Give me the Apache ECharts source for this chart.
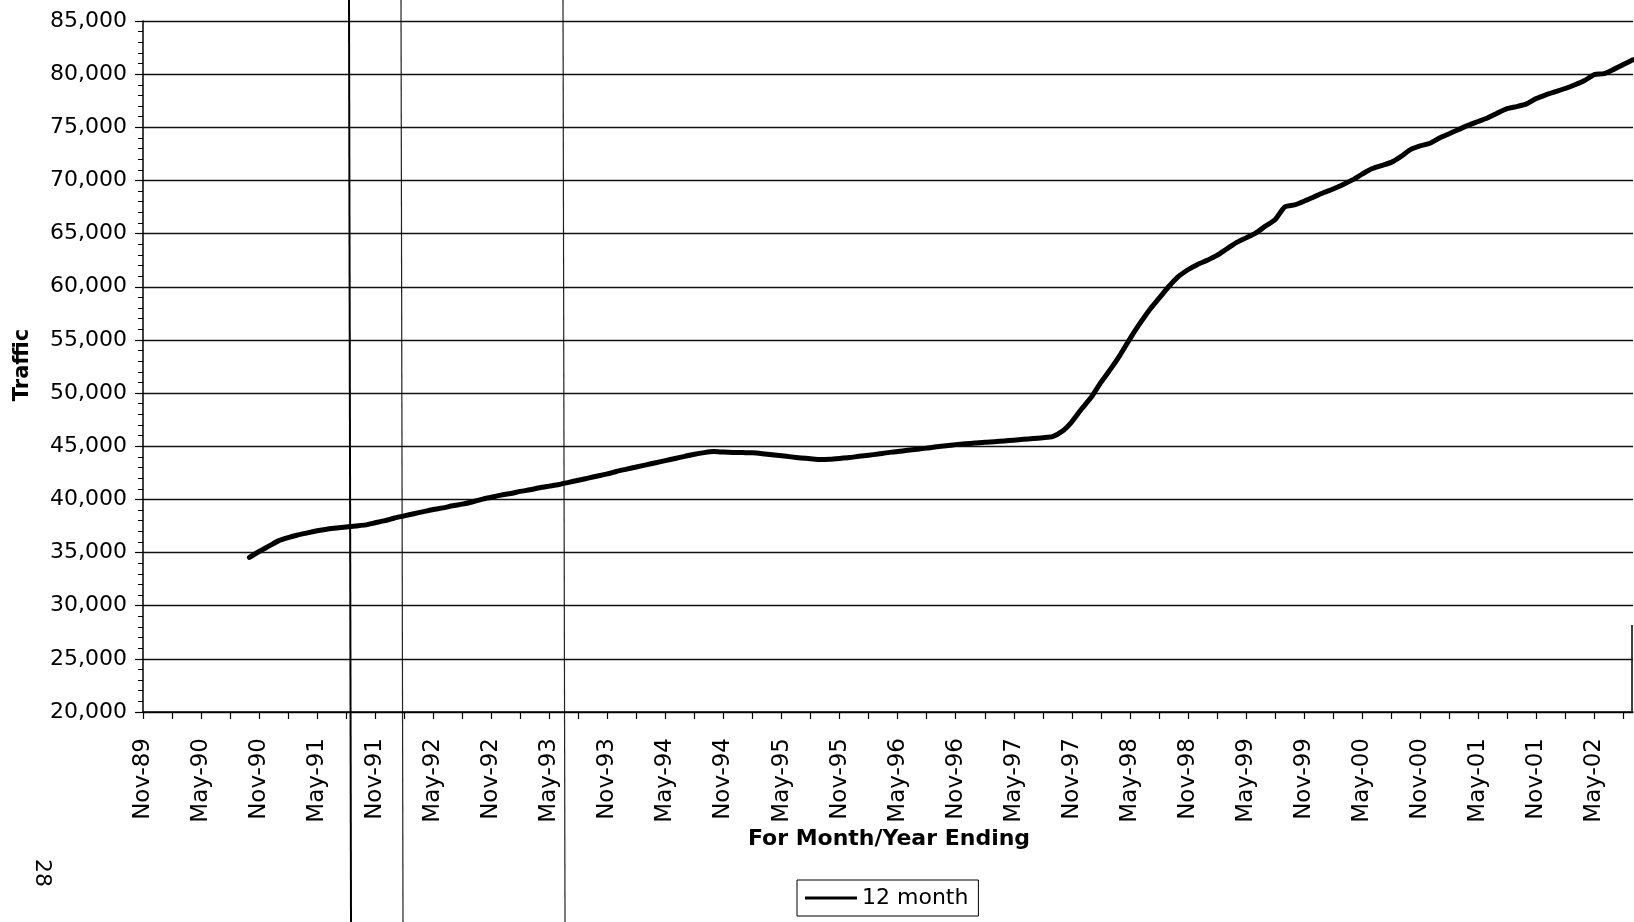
<!DOCTYPE html>
<html>
<head>
<meta charset="utf-8">
<script src="https://cdn.jsdelivr.net/npm/echarts@6/dist/echarts.min.js"></script>
<style>
html,body{margin:0;padding:0;background:#fff;}
#chart{width:1634px;height:922px;}
</style>
</head>
<body>
<div id="chart"></div>
<script>
// ---- data ----
const monthNames = ['Jan','Feb','Mar','Apr','May','Jun','Jul','Aug','Sep','Oct','Nov','Dec'];
// axis runs monthly from Nov-89 to Sep-02
const axisStart = { month: 10, year: 1989 };
const axisMonths = 155;
const categories = [];
for (let k = 0; k < axisMonths; k++) {
  const t = axisStart.month + k;
  const m = t % 12;
  const y = (axisStart.year + Math.floor(t / 12)) % 100;
  categories.push(monthNames[m] + '-' + String(y).padStart(2, '0'));
}
const firstDataMonth = 'Oct-90';
// 12-month traffic, Oct-90 .. Sep-02
const traffic = [
  34550, 35100, 35600, 36100, 36400, 36650, 36850, 37050, 37200, 37300, 37400, 37500,
  37600, 37800, 38000, 38250, 38450, 38650, 38850, 39050, 39200, 39400, 39550, 39750,
  40000, 40200, 40400, 40550, 40750, 40900, 41100, 41250, 41400, 41600, 41800, 42000,
  42200, 42400, 42650, 42850, 43050, 43250, 43450, 43650, 43850, 44050, 44250, 44400,
  44500, 44450, 44420, 44400, 44380, 44300, 44200, 44100, 44000, 43900, 43820, 43750,
  43780, 43850, 43930, 44050, 44150, 44270, 44400, 44500, 44620, 44720, 44820, 44950,
  45050, 45150, 45230, 45300, 45380, 45430, 45500, 45570, 45650, 45720, 45800, 45900,
  46400, 47300, 48500, 49600, 51000, 52250, 53600, 55100, 56500, 57800, 58900, 60000,
  60950, 61600, 62100, 62500, 62950, 63550, 64150, 64600, 65050, 65700, 66300, 67500,
  67700, 68050, 68450, 68850, 69200, 69600, 70050, 70600, 71100, 71400, 71700, 72250,
  72900, 73250, 73500, 74000, 74400, 74800, 75200, 75550, 75900, 76350, 76750, 76950,
  77200, 77700, 78050, 78350, 78650, 79000, 79400, 79950, 80050, 80450, 80900, 81350
];
const seriesName = '12 month';
const yMin = 20000, yMax = 85000, yStep = 5000;

// ---- chart ----
const offset = categories.indexOf(firstDataMonth);
const lineData = categories.map((c, k) => (k < offset ? null : traffic[k - offset]));
const FONT = 'DejaVu Sans';
const chart = echarts.init(document.getElementById('chart'), null, { renderer: 'canvas' });
chart.setOption({
  backgroundColor: '#fff',
  animation: false,
  textStyle: { fontFamily: FONT, color: '#000' },
  grid: { left: 143, right: 1, top: 21, bottom: 210, containLabel: false },
  xAxis: {
    type: 'category',
    data: categories,
    boundaryGap: false,
    axisLine: { show: true, lineStyle: { color: '#000', width: 1.5 } },
    axisTick: { show: true, interval: 2, length: 7, lineStyle: { color: '#000', width: 1.2 } },
    axisLabel: { interval: 5, rotate: 90, fontSize: 23, color: '#000', margin: 26, fontFamily: FONT },
    splitLine: { show: false }
  },
  yAxis: {
    type: 'value',
    min: yMin, max: yMax, interval: yStep,
    axisLine: { show: true, lineStyle: { color: '#000', width: 1.5 } },
    axisTick: { show: true, length: 8, lineStyle: { color: '#000', width: 1.2 } },
    minorTick: { show: true, splitNumber: 5, length: 5, lineStyle: { color: '#000', width: 1 } },
    axisLabel: {
      fontSize: 22, color: '#000', margin: 16, fontFamily: FONT,
      formatter: v => v.toLocaleString('en-US')
    },
    splitLine: { show: true, lineStyle: { color: '#111', width: 1.3 } }
  },
  legend: {
    show: true,
    data: [{ name: seriesName, icon: 'rect' }],
    left: 797, top: 880,
    orient: 'horizontal',
    borderColor: '#000', borderWidth: 1,
    padding: [7, 10, 7, 8],
    itemWidth: 52, itemHeight: 3,
    itemStyle: { color: '#000' },
    textStyle: { fontSize: 22, color: '#000', fontFamily: FONT }
  },
  series: [{
    name: seriesName,
    type: 'line',
    data: lineData,
    symbol: 'none',
    showSymbol: false,
    connectNulls: false,
    smooth: 0.2,
    lineStyle: { color: '#000', width: 5, cap: 'round', join: 'round' },
    itemStyle: { color: '#000' }
  }],
  graphic: [
    { type: 'text', x: 23, y: 365, rotation: Math.PI / 2,
      style: { text: 'Traffic', font: 'bold 21px "DejaVu Sans"', fill: '#000', textAlign: 'center', textVerticalAlign: 'middle' } },
    { type: 'text', x: 889, y: 839,
      style: { text: 'For Month/Year Ending', font: 'bold 22px "DejaVu Sans"', fill: '#000', textAlign: 'center', textVerticalAlign: 'middle' } },
    { type: 'text', x: 42, y: 873, rotation: -Math.PI / 2,
      style: { text: '28', font: '22px "DejaVu Sans"', fill: '#000', textAlign: 'center', textVerticalAlign: 'middle' } },
    { type: 'line', shape: { x1: 349, y1: 0, x2: 351, y2: 922 }, style: { stroke: '#000', lineWidth: 2 }, silent: true },
    { type: 'line', shape: { x1: 401, y1: 0, x2: 403, y2: 922 }, style: { stroke: '#222', lineWidth: 1.2 }, silent: true },
    { type: 'line', shape: { x1: 563, y1: 0, x2: 565, y2: 922 }, style: { stroke: '#222', lineWidth: 1.2 }, silent: true },
    { type: 'line', shape: { x1: 1632, y1: 625, x2: 1632, y2: 711 }, style: { stroke: '#000', lineWidth: 1.5 }, silent: true }
  ]
});
</script>
</body>
</html>
